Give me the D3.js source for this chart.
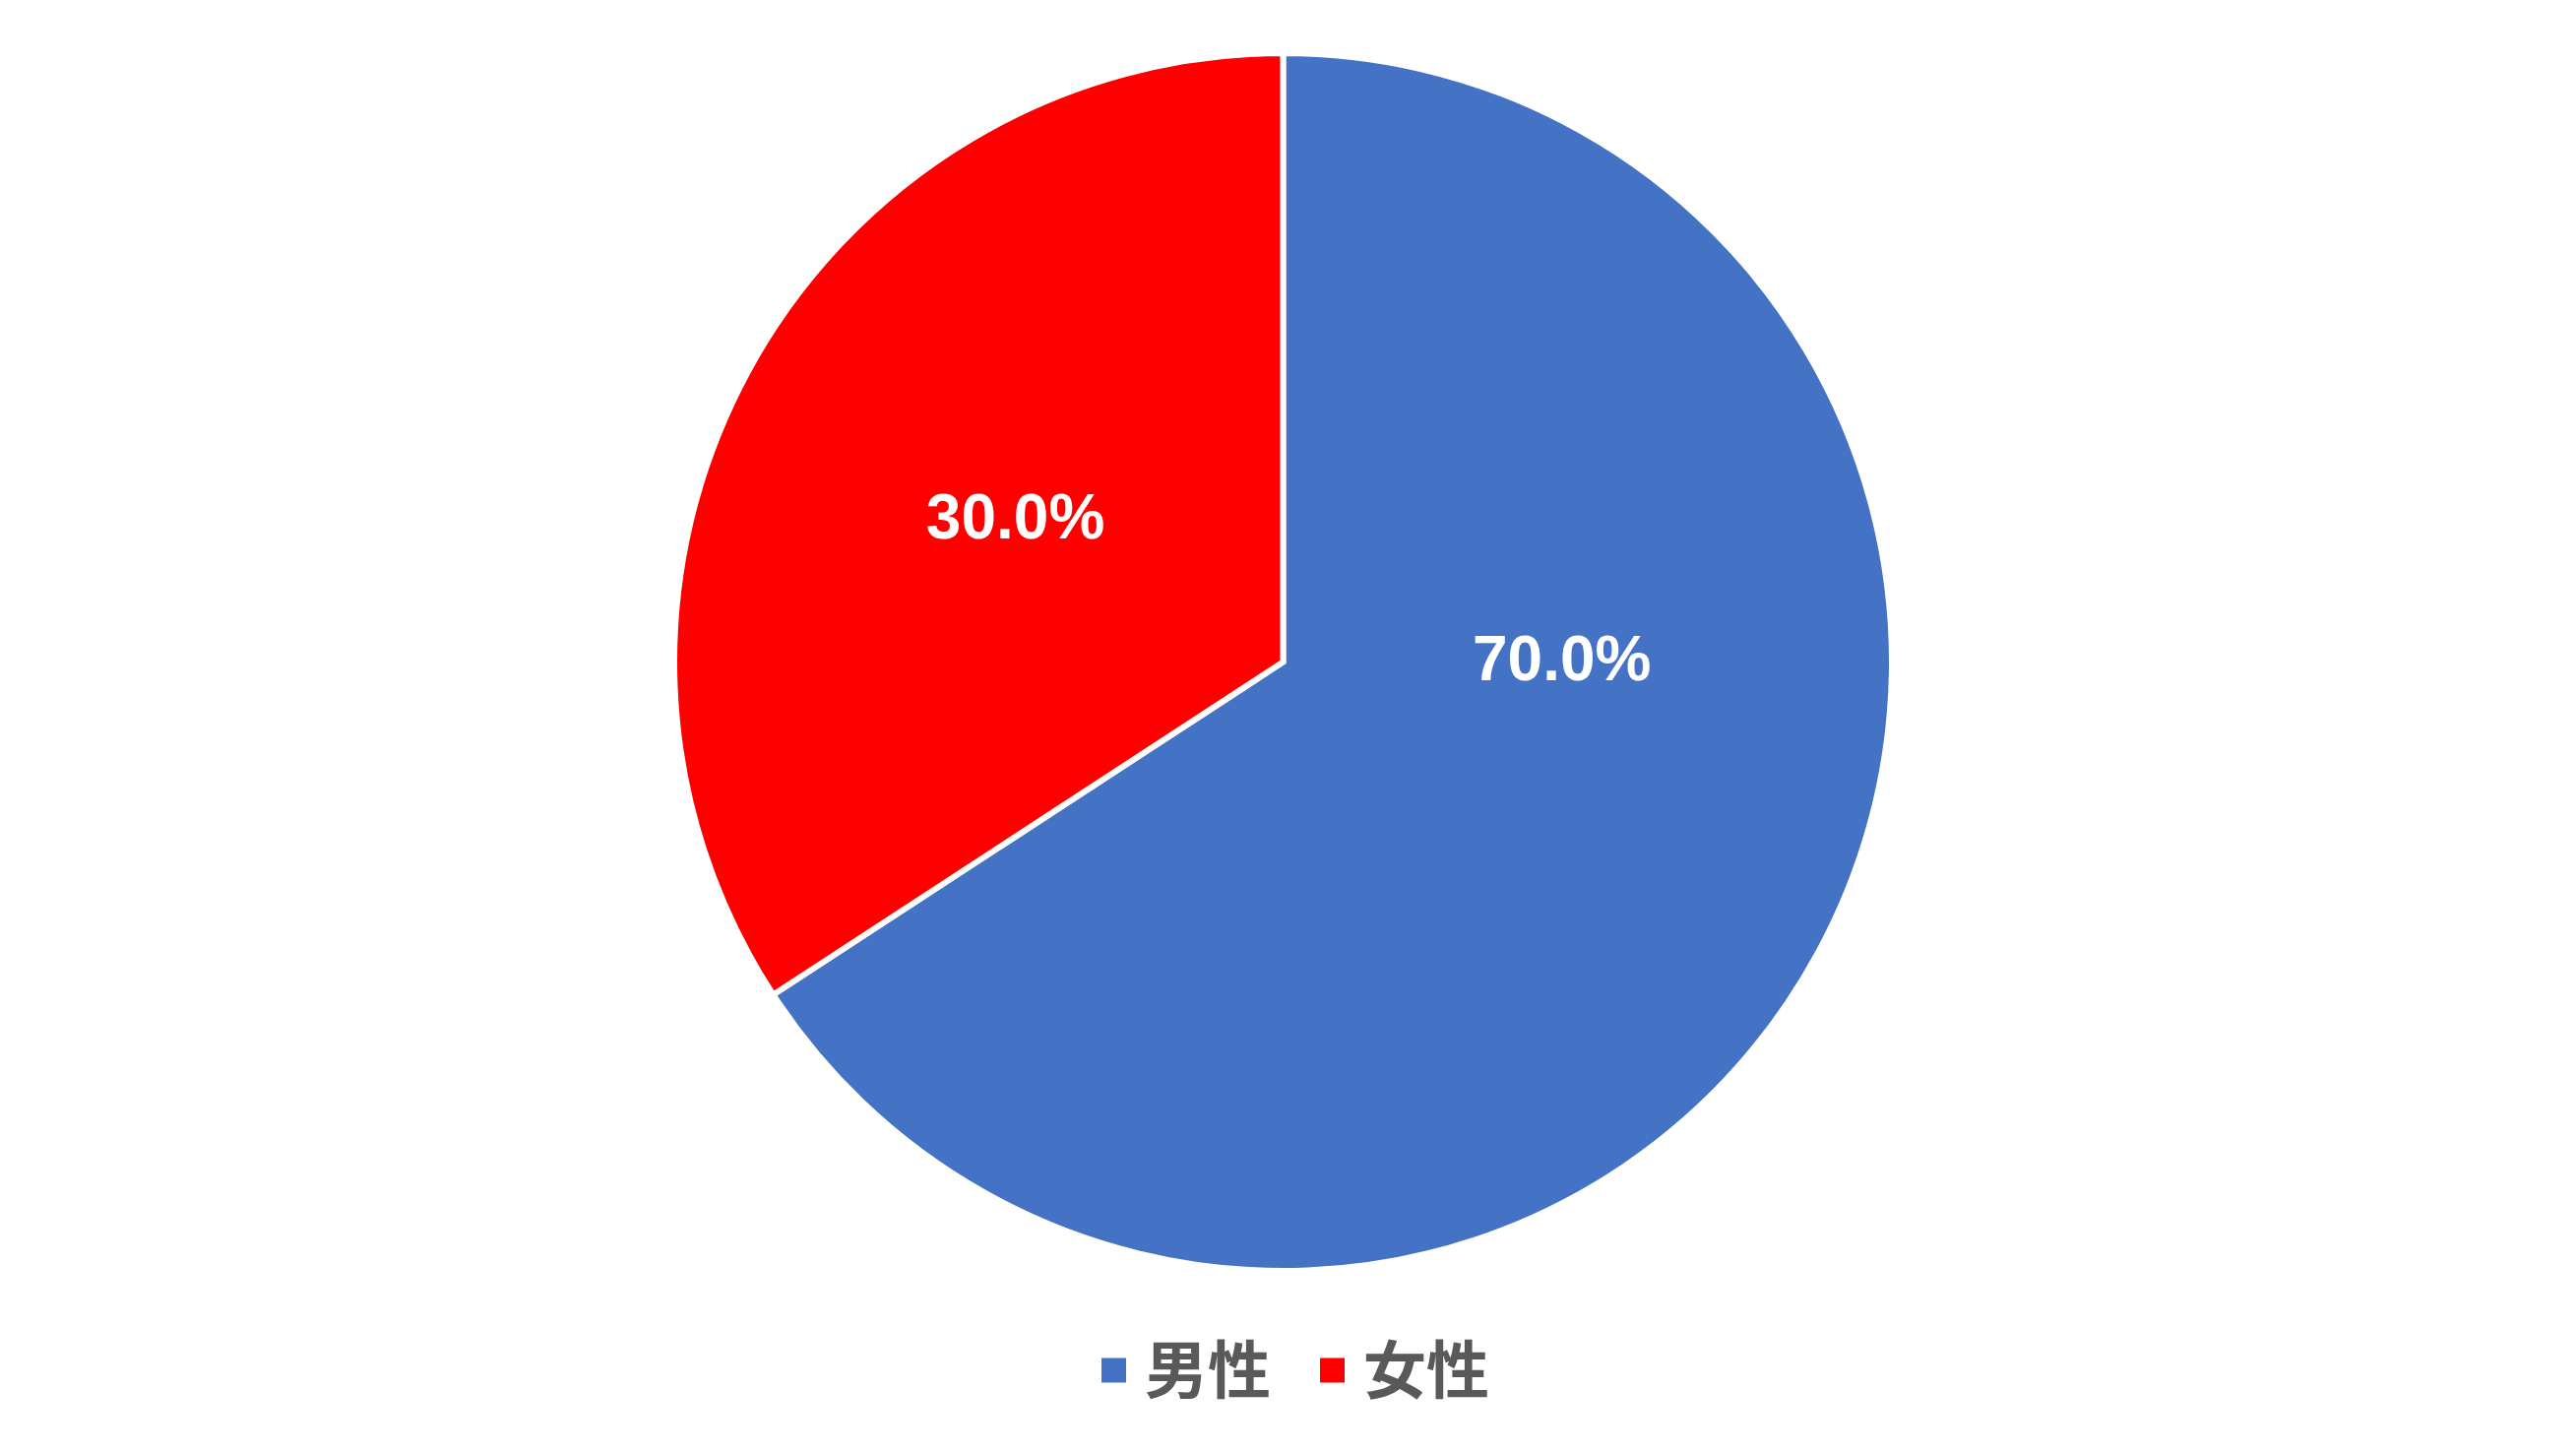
<!DOCTYPE html>
<html><head><meta charset="utf-8">
<script src="https://cdn.jsdelivr.net/npm/d3@7"></script>
<style>html,body{margin:0;padding:0;background:#fff;}svg{display:block;}</style>
</head><body>
<svg id="chart" width="2617" height="1475"></svg>
<script>
// Data (slice sizes as drawn, and their printed labels)
const categories = ["男性", "女性"];
const values = [65.8, 34.2];
const labels = ["70.0%", "30.0%"];
const colors = ["#4472C4", "#FF0000"];

const W = 2617, H = 1475;
const cx = 1303.5, cy = 672.5, R = 618.5;
const svg = d3.select("#chart");
const g = svg.append("g").attr("transform", `translate(${cx},${cy})`);

const pie = d3.pie().sort(null).value(d => d.v);
const data = categories.map((c, i) => ({c, v: values[i], label: labels[i], color: colors[i]}));
const arcs = pie(data);
const arc = d3.arc().innerRadius(0).outerRadius(R);

g.selectAll("path").data(arcs).enter().append("path")
  .attr("d", arc).attr("fill", d => d.data.color)
  .attr("stroke", "#fff").attr("stroke-width", 6).attr("stroke-linejoin", "miter");

// labels: centroid, largest slice pulled toward horizontal (best-fit style)
g.selectAll("text.lbl").data(arcs).enter().append("text")
  .attr("class", "lbl")
  .attr("transform", (d, i) => {
    let a = (d.startAngle + d.endAngle) / 2, r = R / 2;
    if (i === 0) { a = Math.PI / 2 - 0.012; r = R * 0.458; }
    const p = d3.pointRadial(a, r);
    return `translate(${p[0]},${p[1]})`;
  })
  .attr("text-anchor", "middle").attr("dy", "0.34em")
  .attr("font-family", "'Liberation Sans', Arial, sans-serif")
  .attr("font-weight", "bold").attr("font-size", 64).attr("fill", "#fff")
  .text(d => d.data.label);

// legend
const leg = svg.append("g").attr("transform", `translate(0,1392)`);
const items = leg.selectAll("g").data(data).enter().append("g")
  .attr("transform", (d, i) => `translate(${i === 0 ? 1119 : 1341},0)`);
items.append("rect").attr("x", 0).attr("y", -12.5).attr("width", 25).attr("height", 25)
  .attr("fill", d => d.color);
items.append("text").attr("x", 44).attr("dy", "0.36em")
  .attr("font-family", "'Noto Sans CJK JP','Noto Sans CJK SC',sans-serif")
  .attr("font-weight", "bold").attr("font-size", 64).attr("fill", "#595959")
  .text(d => d.c);
</script>
</body></html>
